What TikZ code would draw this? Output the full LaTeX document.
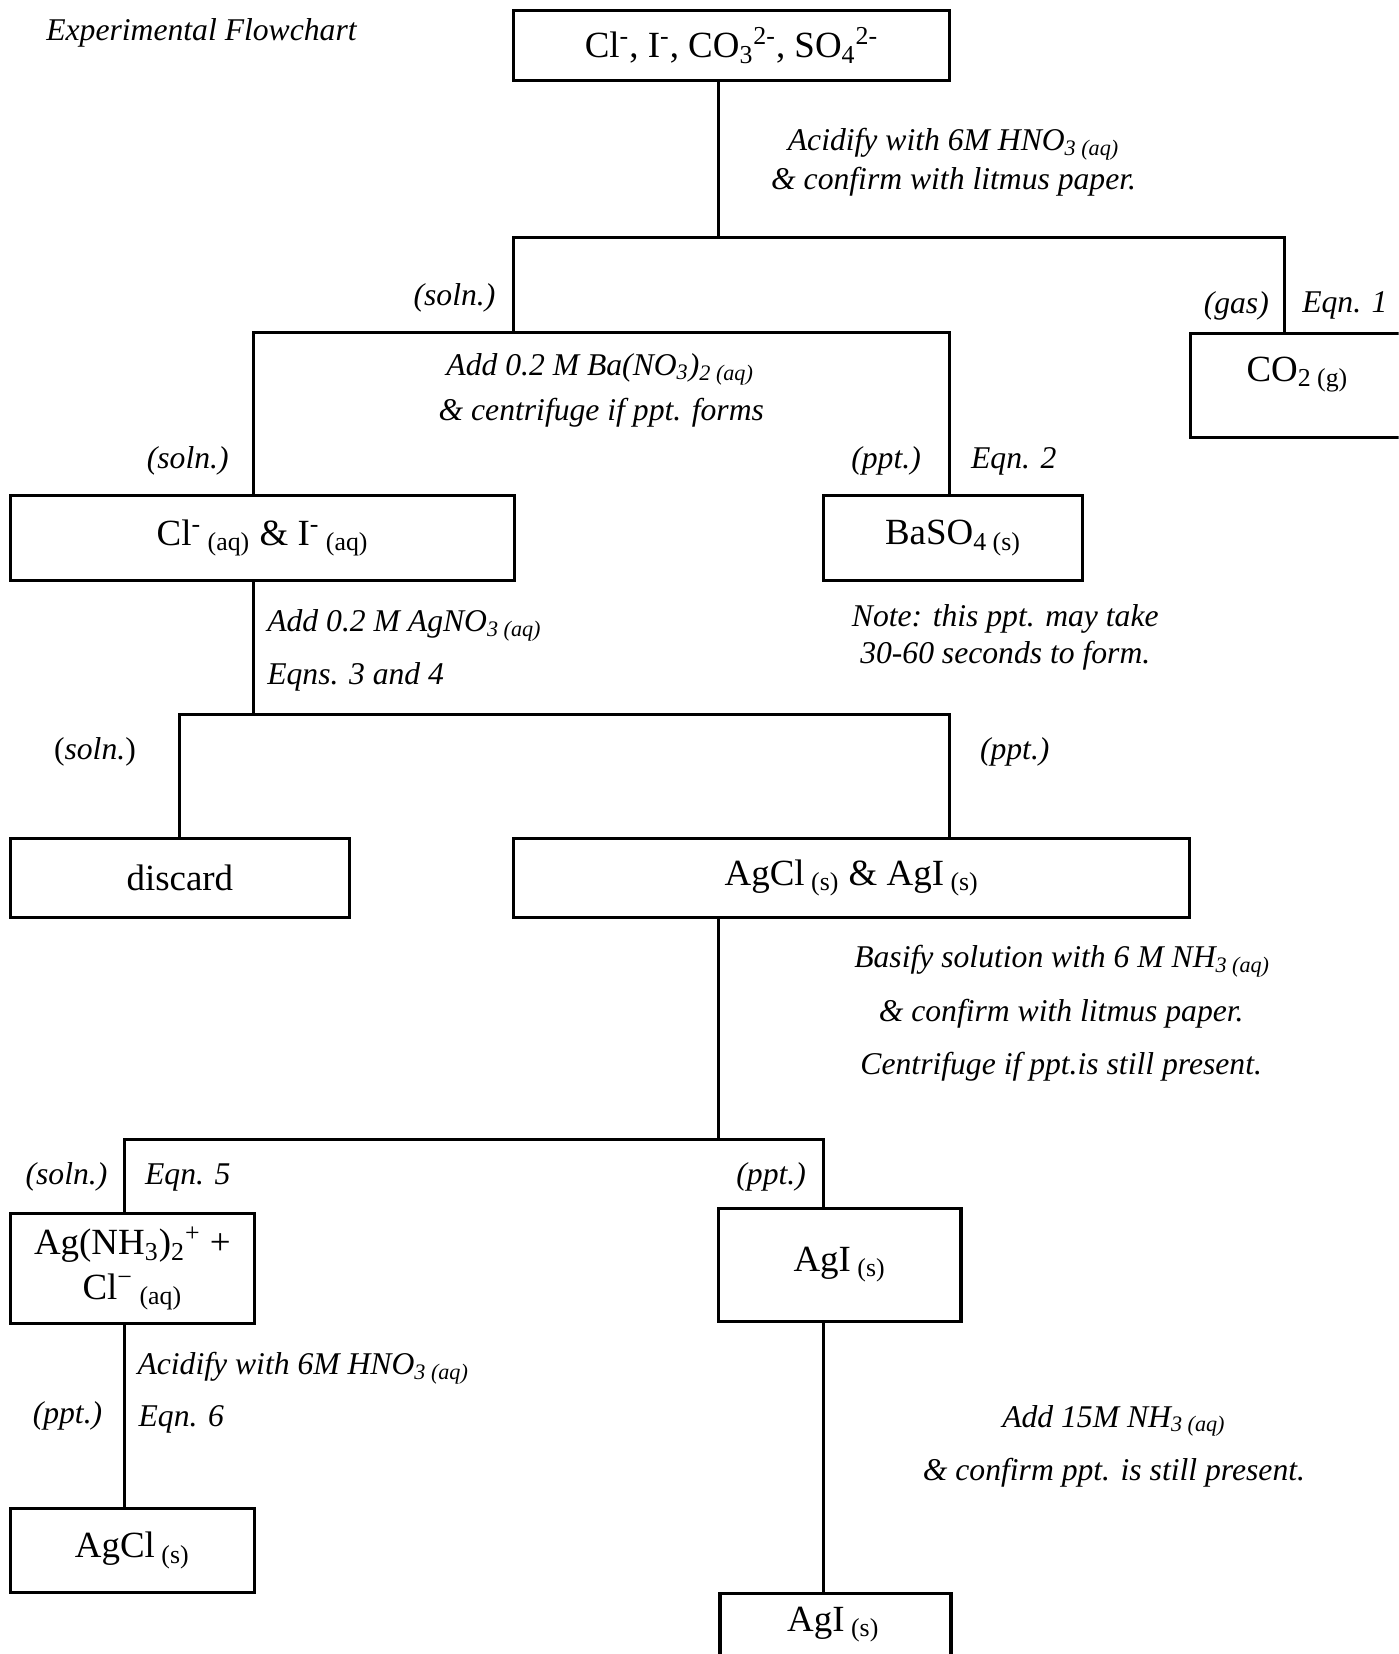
\documentclass[tikz,border=0pt]{standalone}
\usepackage{fontspec}
\setmainfont{Liberation Serif}
\usetikzlibrary{positioning,calc}
\newcommand{\boxsize}{\fontsize{17.5}{21}\selectfont}
\newcommand{\notesize}{\fontsize{15}{18}\selectfont\itshape}

\begin{document}
\begin{tikzpicture}[x=0.5pt, y=-0.5pt,
    box/.style={draw, line width=1.5pt, font=\boxsize, inner sep=0pt},
    note/.style={font=\notesize, inner sep=0pt},
    wire/.style={line width=1.5pt}
]
\useasboundingbox (0,0) rectangle (1326,1568);
\clip (0,0) rectangle (1326,1568);

% Title
\node[note] (title) at (191,31) {Experimental Flowchart};

% Boxes
\node[box, minimum width=206.5pt, minimum height=33pt] (top) at (693.5,43)
    {Cl\textsuperscript{-}, I\textsuperscript{-}, CO\textsubscript{3}\textsuperscript{2-}, SO\textsubscript{4}\textsuperscript{2-}};
\node[box, anchor=north west, minimum width=151.5pt, minimum height=49pt] (co2box) at (1127,315) {};
\node[font=\boxsize, inner sep=0pt] (co2) at (1230,355) {CO\textsubscript{2 (g)}};
\node[box, minimum width=239pt, minimum height=40pt] (clI) at (249,510)
    {Cl\textsuperscript{-}\textsubscript{ (aq)} \& I\textsuperscript{-}\textsubscript{ (aq)}};
\node[box, minimum width=122.5pt, minimum height=40pt] (baso4) at (903.5,510) {BaSO\textsubscript{4 (s)}};
\node[box, minimum width=160.5pt, minimum height=37.5pt] (discard) at (170.5,832.5) {discard};
\node[box, minimum width=320.5pt, minimum height=37.5pt] (agclagi) at (807.5,832.5)
    {AgCl\textsubscript{ (s)} \& AgI\textsubscript{ (s)}};
\node[box, minimum width=115.5pt, minimum height=52.5pt, align=center] (agnh) at (125.5,1202.5)
    {Ag(NH\textsubscript{3})\textsubscript{2}\textsuperscript{+} +\\ Cl\textsuperscript{−}\textsubscript{ (aq)}};
\node[box, minimum width=115pt, minimum height=53.5pt] (agi) at (796,1199) {AgI\textsubscript{ (s)}};
\node[box, minimum width=115.5pt, minimum height=40pt] (agcl) at (125.5,1470) {AgCl\textsubscript{ (s)}};
\node[box, anchor=north west, minimum width=109.5pt, minimum height=50pt] (agibox) at (681,1509) {};
\node[font=\boxsize, inner sep=0pt] (agi2) at (790,1540) {AgI\textsubscript{ (s)}};

% Junctions
\coordinate (j1) at (681,225);
\coordinate (s1) at (487,225);
\coordinate (g1) at (1218,225);
\coordinate (b1) at (240,315);
\coordinate (b2) at (900,315);
\coordinate (c1) at (170,677);
\coordinate (c2) at (900,677);
\coordinate (j2) at (681,1080);
\coordinate (d1) at (118,1080);
\coordinate (d2) at (781,1080);

% Connectors
\draw[wire] (top.south -| j1) -- (j1);
\draw[wire] (s1 |- b1) -- (s1) -- (g1) -- (g1 |- co2box.north);
\draw[wire] (b1 |- clI.north) -- (b1) -- (b2) -- (b2 |- baso4.north);
\draw[wire] (clI.south -| b1) -- (b1 |- c1);
\draw[wire] (c1 |- discard.north) -- (c1) -- (c2) -- (c2 |- agclagi.north);
\draw[wire] (agclagi.south -| j2) -- (j2);
\draw[wire] (d1 |- agnh.north) -- (d1) -- (d2) -- (d2 |- agi.north);
\draw[wire] (agnh.south -| d1) -- (d1 |- agcl.north);
\draw[wire] (agi.south -| d2) -- (d2 |- agibox.north);

% Step notes
\node[note] (acid1) at (904,137) {Acidify with 6M HNO\textsubscript{3 (aq)}};
\node[note] (acid2) at (904,172) {\& confirm with litmus paper.};
\node[note, anchor=east] (soln1) at (470,282) {(soln.)};
\node[note] (gas) at (1172,290) {(gas)};
\node[note] (eqn1) at (1275,290) {Eqn. 1};
\node[note] (ba1) at (569,350) {Add 0.2 M Ba(NO\textsubscript{3})\textsubscript{2 (aq)}};
\node[note] (ba2) at (570,391) {\& centrifuge if ppt. forms};
\node[note] (soln2) at (178,437) {(soln.)};
\node[note] (ppt1) at (840,437) {(ppt.)};
\node[note] (eqn2) at (961,437) {Eqn. 2};
\node[note, anchor=west] (ag1) at (253,593) {Add 0.2 M AgNO\textsubscript{3 (aq)}};
\node[note, anchor=west] (eqns34) at (253,642) {Eqns. 3 and 4};
\node[note] (note1) at (953,587) {Note: this ppt. may take};
\node[note] (note2) at (953,622) {30-60 seconds to form.};
\node[note, font=\notesize\upshape] (soln3) at (90,713) {(\textit{soln.})};
\node[note] (ppt2) at (962,713) {(ppt.)};
\node[note] (bas1) at (1007,911) {Basify solution with 6 M NH\textsubscript{3 (aq)}};
\node[note] (bas2) at (1006,961) {\& confirm with litmus paper.};
\node[note] (bas3) at (1006,1011) {Centrifuge if ppt.is still present.};
\node[note] (soln4) at (63,1116) {(soln.)};
\node[note] (eqn5) at (178,1116) {Eqn. 5};
\node[note] (ppt3) at (731,1116) {(ppt.)};
\node[note, anchor=west] (acid3) at (130,1297) {Acidify with 6M HNO\textsubscript{3 (aq)}};
\node[note] (ppt4) at (64,1342) {(ppt.)};
\node[note, anchor=west] (eqn6) at (131,1346) {Eqn. 6};
\node[note] (nh1) at (1056,1347) {Add 15M NH\textsubscript{3 (aq)}};
\node[note] (nh2) at (1056,1396) {\& confirm ppt. is still present.};

\end{tikzpicture}
\end{document}
